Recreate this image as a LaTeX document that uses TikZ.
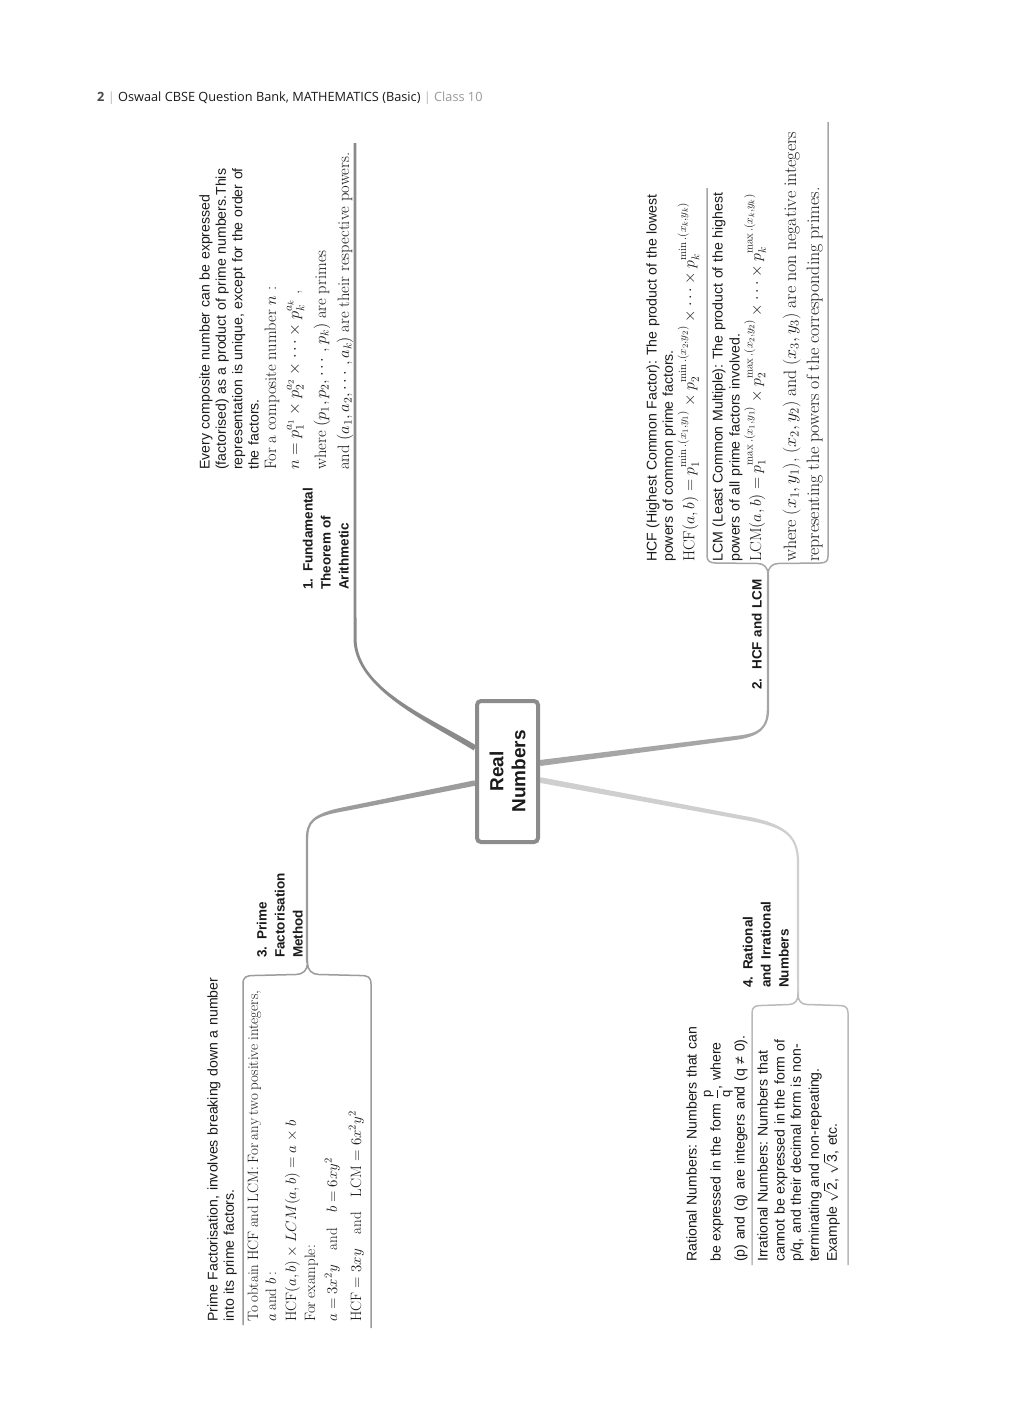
\RequirePackage{fix-cm}
\documentclass[tikz,border=0pt]{standalone}
\usepackage{amsmath}
\usepackage{fontspec}
\setsansfont{Liberation Sans}
\newfontfamily\headfont{Open Sans}
\usetikzlibrary{calc,backgrounds}
\definecolor{ink}{HTML}{1A1A1A}
\definecolor{boxc}{HTML}{8C8C8C}
\definecolor{b1c}{HTML}{8A8A8A}
\definecolor{b2c}{HTML}{A6A6A6}
\definecolor{b3c}{HTML}{9C9C9C}
\definecolor{b4c}{HTML}{CFCFCF}
\definecolor{hdrgray}{HTML}{9A9A9A}
\newcommand\tightlines{\lineskiplimit=-100pt\relax\lineskip=0pt\relax\frenchspacing}
\newcommand\serifsize[1]{\rmfamily\fontsize{#1}{16.4}\selectfont}
\tikzset{
  body/.style={rotate=90, anchor=base west, inner sep=0pt, text width=#1, align=left, text=ink,
    font=\sffamily\fontsize{14.1}{16.4}\selectfont, execute at begin node=\tightlines},
  lab/.style={rotate=90, anchor=base west, inner sep=0pt, text width=150pt, align=left, text=ink,
    font=\sffamily\bfseries\fontsize{13.5}{18}\selectfont},
  realbox/.style={rotate=90, draw=boxc, line width=4pt, fill=white, rounded corners=4pt,
    minimum width=141pt, minimum height=61pt, inner sep=0pt, align=center, text=ink,
    font=\sffamily\bfseries\fontsize{19}{22}\selectfont},
  br2/.style={draw=b2c, line width=1.5pt},
  br3/.style={draw=b3c, line width=1.5pt},
  br4/.style={draw=b4c!90!black, line width=1.5pt},
}
\begin{document}
\begin{tikzpicture}[x=1pt,y=-1pt]
\useasboundingbox (0,0) rectangle (1024,1408);

% header
\node[anchor=base west, inner sep=0pt, font=\headfont\fontsize{12.75}{15}\selectfont, text=ink] (hdr) at (97,101)
  {\textbf{\textcolor{ink!80}{2}} \textcolor{hdrgray!70}{|} Oswaal CBSE Question Bank, MATHEMATICS (Basic) \textcolor{hdrgray!70}{|} \textcolor{hdrgray}{Class 10}};

% central node
\node[realbox] (real) at (507.5,771.5) {Real\\Numbers};

% branch anchor points
\coordinate (b1s) at ($(real.north)+(0,-23.5)$);
\coordinate (b3s) at ($(real.north)+(0,11.5)$);
\coordinate (b2s) at ($(real.south)+(0,-8.5)$);
\coordinate (b4s) at ($(real.south)+(0,8.5)$);
\coordinate (b1k) at (355,640);
\coordinate (b1e) at (355,143);
\coordinate (b3k) at (307,840);
\coordinate (b3tip) at (307.5,963);
\coordinate (b2k) at (768,708);
\coordinate (b2tip) at (768,574);
\coordinate (b4k) at (798,862);
\coordinate (b4tip) at (798,995);

\begin{scope}[on background layer]
\fill[white] (0,0) rectangle (1024,1408);
% branch 1
\fill[b1c] ($(b1s)+(1.4,-2.4)$) .. controls (431.3,717.8) and (358.4,690) .. ($(b1k)+(1.5,0)$)
  -- ($(b1e)+(1.4,0)$) -- ($(b1e)+(-1.4,0)$) -- ($(b1k)+(-1.5,0)$)
  .. controls (355.6,690) and (428.7,722.2) .. ($(b1s)+(-1.4,2.4)$) -- cycle;
% branch 3
\fill[b3c] ($(b3s)+(-0.5,-2.7)$) -- (344.6,807.0) .. controls (311.7,813.4) and (305.8,822) .. ($(b3k)+(-1.2,0)$)
  -- ($(b3tip)+(-1.5,0)$) -- ($(b3tip)+(0.5,0)$) -- ($(b3k)+(1.2,0)$)
  .. controls (308.2,822) and (312.3,816.6) .. (345.4,811.0) -- ($(b3s)+(0.5,2.7)$) -- cycle;
% branch 2
\fill[b2c] ($(b2s)+(0.4,3.0)$) -- (735.25,740.0) .. controls (760.2,736.6) and (769.2,728) .. ($(b2k)+(1.2,0)$)
  -- ($(b2tip)+(1,0)$) -- ($(b2tip)+(-1,0)$) -- ($(b2k)+(-1.2,0)$)
  .. controls (766.8,728) and (759.8,733.4) .. (734.75,736.0) -- ($(b2s)+(-0.4,-3.0)$) -- cycle;
% branch 4
\fill[b4c] ($(b4s)+(0.5,-2.8)$) -- (750.3,817.1) .. controls (785.3,824.4) and (799.2,836) .. ($(b4k)+(1.1,0)$)
  -- ($(b4tip)+(1,0)$) -- ($(b4tip)+(-1,0)$) -- ($(b4k)+(-1.1,0)$)
  .. controls (796.8,836) and (784.7,827.6) .. (749.7,820.9) -- ($(b4s)+(-0.5,2.8)$) -- cycle;
\end{scope}

% braces and underlines
\draw[br3] (243,1325) -- (243,984) .. controls (243,977) and (246,975.5) .. (254,975.5) -- (296,974.5)
  .. controls (303,974.5) and (307.5,970) .. (b3tip) .. controls (307.5,970) and (312,974.5) .. (319,974.5)
  -- (360,975.5) .. controls (368,975.5) and (371,977) .. (371,984) -- (371,1328);
\draw[br2] (707,188) -- (707,556) .. controls (707,561) and (710,563) .. (716,563) -- (758,563.5)
  .. controls (764,563.5) and (768,568) .. (b2tip) .. controls (768,568) and (772,563.5) .. (778,563.5)
  -- (820,563) .. controls (826,563) and (828,561) .. (828,556) -- (828,122);
\draw[br4] (752,1265) -- (752,1013) .. controls (752,1007) and (755,1005.5) .. (761,1005.5) -- (789,1004.5)
  .. controls (795,1004.5) and (798,1000) .. (b4tip) .. controls (798,1000) and (801,1004.5) .. (807,1004.5)
  -- (839,1005.5) .. controls (845,1005.5) and (848,1007) .. (848,1013) -- (848,1265);

% branch 1 text
\node[lab] (l1) at (312.5,590) {1. Fundamental\\Theorem of\\Arithmetic};
\node[body=470pt] (fta) at (209.5,470) {Every composite number can be expressed\\
(factorised) as a product of prime numbers.This\\
representation is unique, except for the order of\\
the factors.\\[1.1pt]
\serifsize{16.5} For a composite number $n$ :\\[6.6pt]
$n=p_1^{a_1}\times p_2^{a_2}\times\cdots\times p_k^{a_k}$ ,\\[10.6pt]
where $(p_1,p_2,\cdots,p_k)$ are primes\\[6.6pt]
and $(a_1,a_2,\cdots,a_k)$ are their respective powers.};

% branch 2 text
\node[lab] (l2) at (761.5,690) {2.\ \ HCF and LCM};
\node[body=470pt] (hcf) at (656.5,562) {HCF (Highest Common Factor): The product of the lowest\\
powers of common prime factors.\\[5.1pt]
\serifsize{16} $\mathrm{HCF}(a,b)=p_1^{\min.(x_1,y_1)}\times p_2^{\min.(x_2,y_2)}\times\cdots\times p_k^{\min.(x_k,y_k)}$};
\node[body=540pt] (lcm) at (722.5,562) {LCM (Least Common Multiple): The product of the highest\\[0.6pt]
powers of all prime factors involved.\\[5.1pt]
\serifsize{16} $\mathrm{LCM}(a,b)=p_1^{\max.(x_1,y_1)}\times p_2^{\max.(x_2,y_2)}\times\cdots\times p_k^{\max.(x_k,y_k)}$\\[18.6pt]
\serifsize{17.9} where $(x_1,y_1)$, $(x_2,y_2)$ and $(x_3,y_3)$ are non negative integers\\[6.6pt]
representing the powers of the corresponding primes.};

% branch 3 text
\node[lab] (l3) at (266.5,958) {3. Prime\\Factorisation\\Method};
\node[body=400pt] (pfa) at (217.5,1322) {Prime Factorisation, involves breaking down a number\\
into its prime factors.};
\node[body=400pt] (pfb) at (258,1322) {\serifsize{15}\spaceskip=3.5pt plus 1pt minus 0.5pt\relax To obtain HCF and LCM: For any two positive integers,\\[1.6pt]
$a$ and $b$ :\\[3.6pt]
$\mathrm{HCF}(a,b)\times LCM(a,b)=a\times b$\\[2.6pt]
For example:\\[5.6pt]
$a=3x^2y$\quad and\quad $b=6xy^2$\\[7.6pt]
$\mathrm{HCF}=3xy$\quad and\quad $\mathrm{LCM}=6x^2y^2$};

% branch 4 text
\node[lab] (l4) at (752.5,988) {4. Rational\\and Irrational\\Numbers};
\node[body=300pt] (rat) at (696.5,1262) {Rational Numbers: Numbers that can\\[7.6pt]
be expressed in the form $\dfrac{\text{\fontsize{13}{13}\selectfont p}}{\text{\fontsize{13}{13}\selectfont q}}$, where\\[7.6pt]
(p) and (q) are integers and (q ≠ 0).};
\node[body=300pt] (irr) at (767.5,1262) {Irrational Numbers: Numbers that\\[0.6pt]
cannot be expressed in the form of\\
p/q, and their decimal form is non-\\[1.6pt]
terminating and non-repeating.\\[1.6pt]
Example $\sqrt{\text{2}}$, $\sqrt{\text{3}}$, etc.};
\end{tikzpicture}
\end{document}
